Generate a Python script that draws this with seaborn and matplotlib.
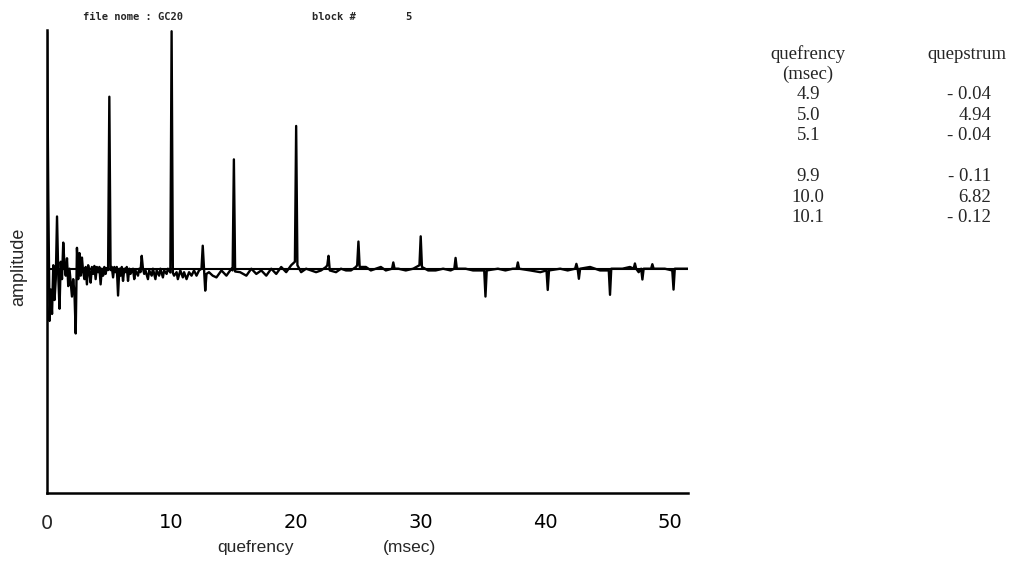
import matplotlib
matplotlib.use("Agg")
import matplotlib.pyplot as plt
import seaborn as sns
import pandas as pd

# cepstrum trace (quefrency in msec, amplitude)
quefrency = [0.0, 0.1, 0.2, 0.3, 0.4, 0.5, 0.6, 0.7, 0.8, 0.9, 1.0, 1.1, 1.2, 1.3, 1.4,
             1.5, 1.6, 1.7, 1.8, 1.9, 2.0, 2.1, 2.2, 2.3, 2.4, 2.5, 2.6, 2.7, 2.8, 2.9,
             3.0, 3.1, 3.2, 3.3, 3.4, 3.5, 3.6, 3.7, 3.8, 3.9, 4.0, 4.1, 4.2, 4.3, 4.4,
             4.5, 4.6, 4.7, 4.8, 4.9, 5.0, 5.1, 5.2, 5.3, 5.4, 5.5, 5.6, 5.7, 5.8, 5.9,
             6.0, 6.1, 6.2, 6.3, 6.4, 6.5, 6.6, 6.7, 6.9, 7.0, 7.1, 7.3, 7.4, 7.5, 7.6,
             7.7, 7.8, 7.9, 8.1, 8.2, 8.4, 8.5, 8.7, 8.8, 9.0, 9.1, 9.3, 9.4, 9.6, 9.7,
             9.9, 10.0, 10.05, 10.1, 10.2, 10.4, 10.5, 10.7, 10.9, 11.0, 11.2, 11.4, 11.6, 11.8, 12.0,
             12.2, 12.4, 12.5, 12.6, 12.7, 12.8, 13.0, 13.3, 13.6, 14.0, 14.4, 14.8, 14.9, 15.0, 15.1,
             15.5, 16.0, 16.4, 16.8, 17.2, 17.6, 18.0, 18.4, 18.8, 19.2, 19.6, 19.9, 20.0, 20.05, 20.1,
             20.4, 20.8, 21.2, 21.6, 22.0, 22.4, 22.5, 22.6, 22.7, 23.2, 23.6, 24.0, 24.4, 24.8, 24.9,
             25.0, 25.1, 25.6, 26.0, 26.4, 26.8, 27.2, 27.7, 27.8, 27.9, 28.2, 28.8, 29.4, 29.9, 30.0,
             30.1, 30.6, 31.2, 31.8, 32.4, 32.7, 32.8, 32.9, 33.6, 34.2, 34.8, 35.1, 35.2, 35.3, 36.2,
             36.8, 37.4, 37.7, 37.8, 37.9, 38.8, 39.6, 40.1, 40.2, 40.3, 41.2, 41.8, 42.4, 42.5, 42.6,
             42.7, 42.8, 43.6, 44.4, 45.1, 45.2, 45.3, 46.2, 46.8, 47.1, 47.2, 47.3, 47.5, 47.7, 47.8,
             47.9, 48.5, 48.6, 48.7, 49.6, 50.2, 50.3, 50.4, 51.5]
amplitude = [6.8, 2.0, -1.5, -0.6, -1.3, 0.1, -0.9, -0.3, 1.5, -0.2, -1.15, 0.2, -0.3, 0.75, 0.1,
             -0.2, 0.3, -0.5, 0.0, -0.4, -0.8, -0.3, -0.7, -1.86, 0.6, -0.3, 0.45, -0.2, 0.32, -0.1,
             -0.3, 0.05, -0.45, 0.1, -0.1, -0.4, 0.05, -0.15, 0.08, -0.3, 0.05, -0.1, 0.05, -0.45, 0.0,
             -0.2, 0.05, -0.15, 0.02, -0.04, 4.94, -0.04, 0.05, -0.25, 0.05, -0.1, 0.05, -0.77, 0.0, -0.2,
             0.05, -0.35, 0.0, -0.1, 0.05, -0.35, 0.0, -0.15, 0.0, -0.3, -0.05, -0.2, 0.0, -0.1, 0.37,
             0.0, -0.15, -0.05, -0.3, -0.05, -0.2, 0.0, -0.3, -0.05, -0.2, 0.0, -0.25, -0.05, -0.15, 0.0,
             -0.11, 6.82, 3.3, -0.12, -0.2, -0.1, -0.3, -0.05, -0.25, -0.1, -0.3, -0.1, -0.2, -0.05, -0.2,
             -0.05, 0.0, 0.66, 0.0, -0.63, -0.15, -0.1, -0.2, -0.25, -0.05, -0.2, 0.0, -0.05, 3.14, -0.08,
             -0.1, -0.2, 0.0, -0.15, -0.05, -0.2, 0.0, -0.15, 0.05, -0.1, 0.1, 0.2, 4.1, 2.0, 0.1,
             -0.1, 0.0, -0.05, -0.1, -0.05, 0.05, 0.1, 0.37, -0.05, -0.1, 0.0, -0.05, -0.05, 0.05, 0.1,
             0.78, 0.05, 0.05, -0.05, 0.0, 0.05, -0.05, 0.0, 0.18, 0.0, 0.0, -0.05, 0.0, 0.1, 0.93,
             0.05, -0.05, -0.05, 0.0, -0.05, 0.0, 0.31, 0.0, 0.0, -0.05, -0.05, -0.05, -0.8, -0.05, 0.0,
             -0.05, 0.0, 0.0, 0.18, 0.0, -0.05, -0.1, -0.05, -0.61, -0.05, 0.0, -0.05, 0.0, 0.14, 0.0,
             -0.29, 0.0, 0.05, -0.05, -0.05, -0.75, 0.0, 0.0, 0.05, 0.0, 0.15, 0.0, -0.1, 0.0, -0.31,
             0.0, 0.0, 0.13, 0.0, 0.0, -0.05, -0.6, 0.0, 0.0]

x_ticks = [10, 20, 30, 40, 50]
table_q = ["4.9", "5.0", "5.1", "", "9.9", "10.0", "10.1"]
table_c = ["- 0.04", "4.94", "- 0.04", "", "- 0.11", "6.82", "- 0.12"]

df = pd.DataFrame({"quefrency": quefrency, "amplitude": amplitude})

sns.set_style("white")
fig = plt.figure(figsize=(10.23, 5.81), dpi=100)
ax = fig.add_axes([0.046, 0.151, 0.627, 0.797])

ax.axhline(0, color="black", lw=1.5)
sns.lineplot(data=df, x="quefrency", y="amplitude", color="black", lw=1.7, ax=ax)

ax.set_xlim(0, 51.5)
ax.set_ylim(-6.45, 6.85)
for s in ["top", "right"]:
    ax.spines[s].set_visible(False)
for s in ["left", "bottom"]:
    ax.spines[s].set_color("black")
    ax.spines[s].set_linewidth(1.8)

ax.set_xticks(x_ticks)
ax.set_yticks([])
ax.tick_params(axis="x", direction="in", length=9, width=1.5, pad=14, labelsize=14, colors="black")
narrow = ["Liberation Sans Narrow", "DejaVu Sans"]
for lab in ax.get_xticklabels():
    lab.set_family(narrow)
ax.text(0, -0.045, "0", transform=ax.get_xaxis_transform(), ha="center", va="top",
        fontsize=14, family=narrow)
ax.set_xlabel("")
ax.set_ylabel("")

sans = ["Liberation Sans", "DejaVu Sans"]
fig.text(0.018, 0.54, "amplitude", rotation=90, ha="center", va="center", fontsize=13, family=sans)
fig.text(0.25, 0.057, "quefrency", ha="center", va="center", fontsize=12.5, family=sans)
fig.text(0.400, 0.057, "(msec)", ha="center", va="center", fontsize=12.5, family=sans)

mono = ["DejaVu Sans Mono"]
fig.text(0.081, 0.97, "file nome : GC20", ha="left", va="center", fontsize=7.5,
         fontweight="bold", family=mono)
fig.text(0.305, 0.97, "block #", ha="left", va="center", fontsize=7.5, fontweight="bold", family=mono)
fig.text(0.396, 0.97, "5", ha="left", va="center", fontsize=7.5, fontweight="bold", family=mono)

serif = ["Liberation Serif", "DejaVu Serif"]
top = 0.907
step = 0.0352
fig.text(0.790, top, "quefrency", ha="center", va="center", fontsize=13.5, family=serif)
fig.text(0.790, top - step, "(msec)", ha="center", va="center", fontsize=13.5, family=serif)
fig.text(0.945, top, "quepstrum", ha="center", va="center", fontsize=13.5, family=serif)
for i, (q, c) in enumerate(zip(table_q, table_c)):
    y = top - step * (i + 2)
    fig.text(0.790, y, q, ha="center", va="center", fontsize=13.5, family=serif)
    fig.text(0.969, y, c, ha="right", va="center", fontsize=13.5, family=serif)

fig.savefig("out.png", dpi=100)
